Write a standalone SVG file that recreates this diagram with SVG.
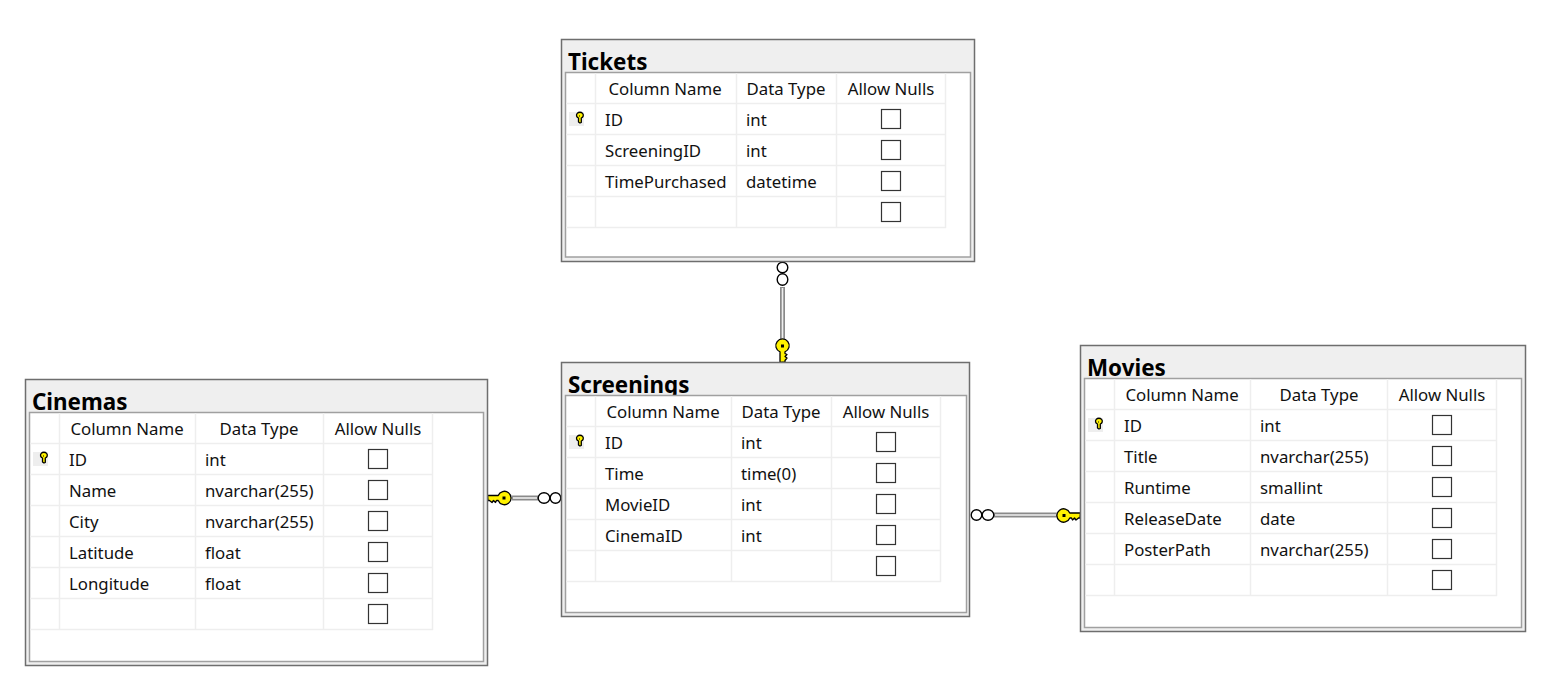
<svg xmlns="http://www.w3.org/2000/svg" width="1567" height="691" viewBox="0 0 1567 691">
<style>
text{font-family:"Noto Sans","Open Sans","Liberation Sans",sans-serif;font-size:16.8px;fill:#111}
.title{font-size:22.4px;font-weight:700;fill:#000}
.hd{text-anchor:middle}
.outer{fill:#efefef;stroke:#6e6e6e;stroke-width:1.5}
.inner{fill:#fff;stroke:#a0a0a0;stroke-width:1.5}
.grid{fill:none;stroke:#eeeeee;stroke-width:1.5}
.cb{fill:#fff;stroke:#333;stroke-width:1.2;width:19px;height:19px}
.keybg{fill:#eeeeee}
.link{fill:none;stroke:#8a8a8a;stroke-width:5}
.linkc{fill:none;stroke:#efefef;stroke-width:1.6}
.ring{fill:#fff;stroke:#000;stroke-width:1.4}
.key{fill:#fff200;stroke:#000;stroke-width:1.3;stroke-linejoin:round}
</style>
<defs>
<g id="sk"><rect class="keybg" x="-10" y="-7" width="15" height="14"/><path class="key" d="M-1 1.500A3.400 3 0 1 1 1.800 1.500V6L.5 6.500-1 5.500z" transform="translate(.5 -2.500)" stroke-width="1"/><rect x="0" y="-3.500" width="1" height="1" fill="#000"/></g>
<g id="lk"><path class="key" d="M-2.500 5.800A6.700 6.700 0 1 1 2.500 5.800V7.500L4.500 8.500 2.500 10.500 4.500 12 2.500 14.500V16L-2.500 16.500z"/><rect x="-1.500" y="-1.500" width="3" height="3" fill="#000"/></g>
</defs>
<g id="connectors">
<path class="link" d="M782.500 287V340"/><path class="linkc" d="M782.500 288V339"/>
<ellipse class="ring" cx="782.500" cy="267.500" rx="5.300" ry="5.300"/><ellipse class="ring" cx="782.500" cy="279.500" rx="5.300" ry="5.800"/>
<use href="#lk" transform="translate(782.500 346)"/>
<path class="link" d="M512 498H538"/><path class="linkc" d="M513 498H537"/>
<ellipse class="ring" cx="544" cy="498" rx="5.800" ry="5.300"/><ellipse class="ring" cx="555.500" cy="498" rx="5.300" ry="5.300"/>
<use href="#lk" transform="translate(504 498) rotate(90)"/>
<path class="link" d="M994 515H1057"/><path class="linkc" d="M995 515H1056"/>
<ellipse class="ring" cx="976.500" cy="515" rx="5.300" ry="5.300"/><ellipse class="ring" cx="988" cy="515" rx="5.800" ry="5.300"/>
<use href="#lk" transform="translate(1064 515.500) rotate(-90) scale(-1 1)"/>
</g>
<g id="tickets">
<rect class="outer" x="561.500" y="39.500" width="413" height="222"/>
<text class="title" x="568" y="70">Tickets</text>
<rect class="inner" x="565.500" y="72.500" width="405" height="184.500"/>
<path class="grid" d="M566 103.500H946M566 134.500H946M566 165.500H946M566 196.500H946M566 227.500H946M595.500 73V228M736.500 73V228M836.500 73V228M945.500 73V228"/>
<text class="hd" x="665" y="94.500">Column Name</text><text class="hd" x="786" y="94.500">Data Type</text><text class="hd" x="891" y="94.500">Allow Nulls</text>
<use href="#sk" transform="translate(579 119)"/>
<text x="605" y="125.500">ID</text><text x="746" y="125.500">int</text><rect class="cb" x="881.500" y="109.500"/>
<text x="605" y="156.500">ScreeningID</text><text x="746" y="156.500">int</text><rect class="cb" x="881.500" y="140.500"/>
<text x="605" y="187.500">TimePurchased</text><text x="746" y="187.500">datetime</text><rect class="cb" x="881.500" y="171.500"/>
<rect class="cb" x="881.500" y="202.500"/>
</g>
<g id="screenings">
<rect class="outer" x="561.500" y="362.500" width="408" height="254"/>
<text class="title" x="568" y="393">Screenings</text>
<rect class="inner" x="565.500" y="395.500" width="401" height="217"/>
<path class="grid" d="M566 426.500H941M566 457.500H941M566 488.500H941M566 519.500H941M566 550.500H941M566 581.500H941M595.500 396V582M731.500 396V582M831.500 396V582M940.500 396V582"/>
<text class="hd" x="663" y="417.500">Column Name</text><text class="hd" x="781" y="417.500">Data Type</text><text class="hd" x="886" y="417.500">Allow Nulls</text>
<use href="#sk" transform="translate(579 442)"/>
<text x="605" y="448.500">ID</text><text x="741" y="448.500">int</text><rect class="cb" x="876.500" y="432.500"/>
<text x="605" y="479.500">Time</text><text x="741" y="479.500">time(0)</text><rect class="cb" x="876.500" y="463.500"/>
<text x="605" y="510.500">MovieID</text><text x="741" y="510.500">int</text><rect class="cb" x="876.500" y="494.500"/>
<text x="605" y="541.500">CinemaID</text><text x="741" y="541.500">int</text><rect class="cb" x="876.500" y="525.500"/>
<rect class="cb" x="876.500" y="556.500"/>
</g>
<g id="cinemas">
<rect class="outer" x="25.500" y="379.500" width="462" height="286"/>
<text class="title" x="32" y="410">Cinemas</text>
<rect class="inner" x="29.500" y="412.500" width="454" height="249"/>
<path class="grid" d="M30 443.500H433M30 474.500H433M30 505.500H433M30 536.500H433M30 567.500H433M30 598.500H433M30 629.500H433M59.500 413V630M195.500 413V630M323.500 413V630M432.500 413V630"/>
<text class="hd" x="127" y="434.500">Column Name</text><text class="hd" x="259" y="434.500">Data Type</text><text class="hd" x="378" y="434.500">Allow Nulls</text>
<use href="#sk" transform="translate(43 459)"/>
<text x="69" y="465.500">ID</text><text x="205" y="465.500">int</text><rect class="cb" x="368.500" y="449.500"/>
<text x="69" y="496.500">Name</text><text x="205" y="496.500">nvarchar(255)</text><rect class="cb" x="368.500" y="480.500"/>
<text x="69" y="527.500">City</text><text x="205" y="527.500">nvarchar(255)</text><rect class="cb" x="368.500" y="511.500"/>
<text x="69" y="558.500">Latitude</text><text x="205" y="558.500">float</text><rect class="cb" x="368.500" y="542.500"/>
<text x="69" y="589.500">Longitude</text><text x="205" y="589.500">float</text><rect class="cb" x="368.500" y="573.500"/>
<rect class="cb" x="368.500" y="604.500"/>
</g>
<g id="movies">
<rect class="outer" x="1080.500" y="345.500" width="445" height="286"/>
<text class="title" x="1087" y="376">Movies</text>
<rect class="inner" x="1084.500" y="378.500" width="437" height="249"/>
<path class="grid" d="M1085 409.500H1497M1085 440.500H1497M1085 471.500H1497M1085 502.500H1497M1085 533.500H1497M1085 564.500H1497M1085 595.500H1497M1114.500 379V596M1250.500 379V596M1387.500 379V596M1496.500 379V596"/>
<text class="hd" x="1182" y="400.500">Column Name</text><text class="hd" x="1319" y="400.500">Data Type</text><text class="hd" x="1442" y="400.500">Allow Nulls</text>
<use href="#sk" transform="translate(1098 425)"/>
<text x="1124" y="431.500">ID</text><text x="1260" y="431.500">int</text><rect class="cb" x="1432.500" y="415.500"/>
<text x="1124" y="462.500">Title</text><text x="1260" y="462.500">nvarchar(255)</text><rect class="cb" x="1432.500" y="446.500"/>
<text x="1124" y="493.500">Runtime</text><text x="1260" y="493.500">smallint</text><rect class="cb" x="1432.500" y="477.500"/>
<text x="1124" y="524.500">ReleaseDate</text><text x="1260" y="524.500">date</text><rect class="cb" x="1432.500" y="508.500"/>
<text x="1124" y="555.500">PosterPath</text><text x="1260" y="555.500">nvarchar(255)</text><rect class="cb" x="1432.500" y="539.500"/>
<rect class="cb" x="1432.500" y="570.500"/>
</g>
</svg>
